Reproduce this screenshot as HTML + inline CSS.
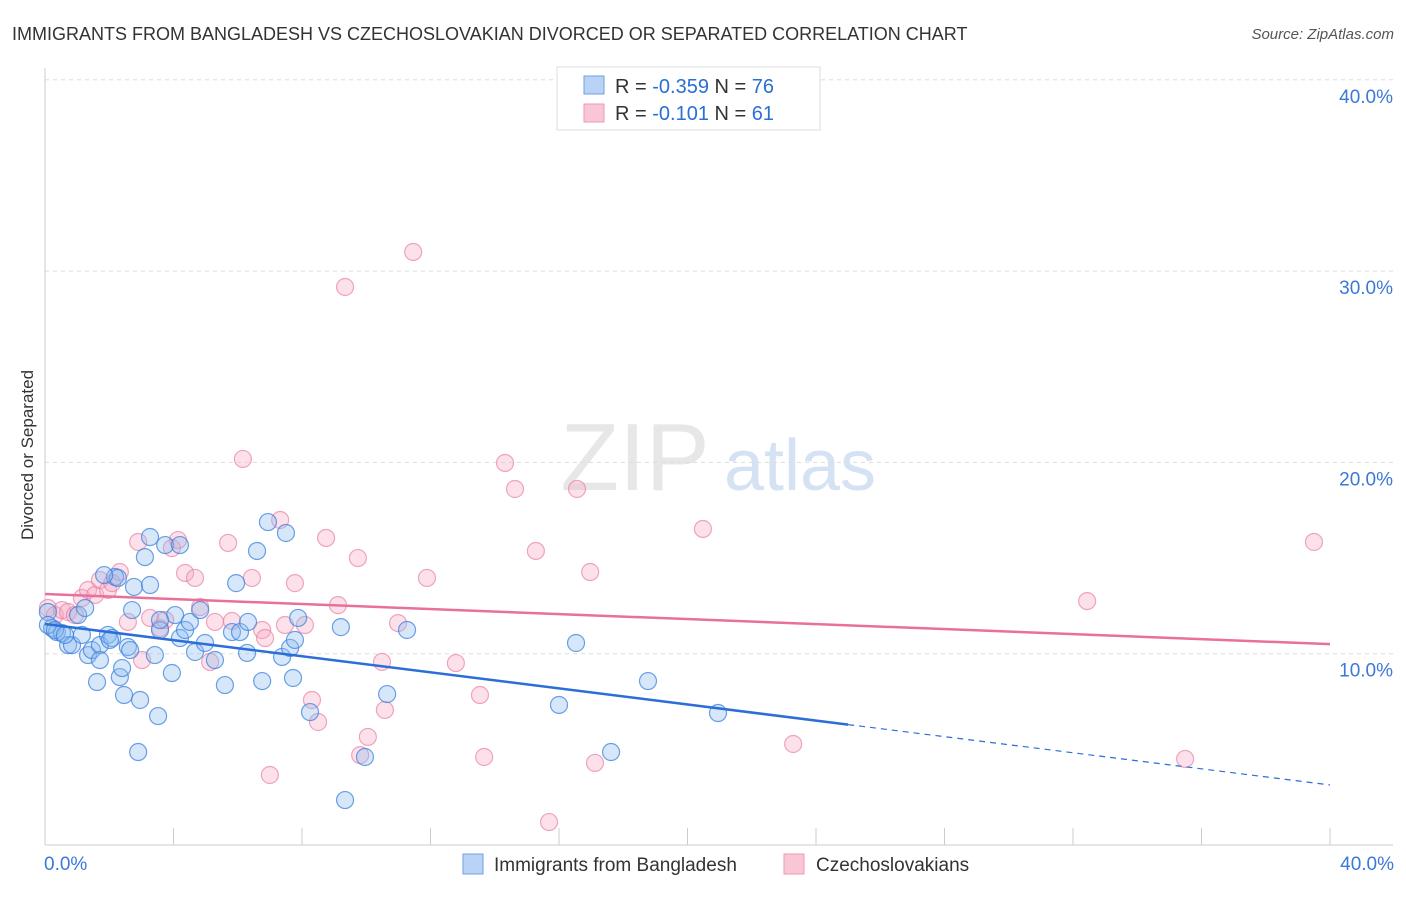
<!DOCTYPE html>
<html><head><meta charset="utf-8"><style>
body{margin:0;background:#fff;font-family:"Liberation Sans",sans-serif;}
svg text{font-family:"Liberation Sans",sans-serif;}
</style></head><body>
<svg id="c" width="1406" height="892" xmlns="http://www.w3.org/2000/svg">
<text x="12" y="40" font-size="18" fill="#333">IMMIGRANTS FROM BANGLADESH VS CZECHOSLOVAKIAN DIVORCED OR SEPARATED CORRELATION CHART</text>
<text x="1394" y="39" font-size="15" fill="#555" text-anchor="end" font-style="italic">Source: ZipAtlas.com</text>
<text transform="translate(33,455) rotate(-90)" font-size="17" fill="#333" text-anchor="middle">Divorced or Separated</text>
<g><text x="635" y="490" font-size="96" fill="#d8d8d8" text-anchor="middle" font-family="Liberation Serif,serif" opacity="0.6">ZIP</text><text x="800" y="490" font-size="72" fill="#b8d0ee" text-anchor="middle" opacity="0.6">atlas</text></g>
<g id="grid"></g><g id="marks"></g>
<g>
<rect x="557" y="67" width="263" height="63" fill="#fff" stroke="#ddd"/>
<rect x="584" y="76" width="20" height="18" fill="#b8d3f5" stroke="#6fa0e0"/>
<rect x="584" y="104" width="20" height="18" fill="#f9c6d6" stroke="#ee9ab4"/>
<text x="615" y="93" font-size="20" fill="#333">R = <tspan fill="#2a6ed6">-0.359</tspan>   N = <tspan fill="#2a6ed6">76</tspan></text>
<text x="615" y="120" font-size="20" fill="#333">R =  <tspan fill="#2a6ed6">-0.101</tspan>   N =  <tspan fill="#2a6ed6">61</tspan></text>
</g>
<g>
<rect x="463" y="854" width="20" height="20" fill="#b8d3f5" stroke="#6fa0e0"/>
<text x="494" y="871" font-size="19" fill="#333">Immigrants from Bangladesh</text>
<rect x="784" y="854" width="20" height="20" fill="#f9c6d6" stroke="#ee9ab4"/>
<text x="816" y="871" font-size="19" fill="#333">Czechoslovakians</text>
</g>
</svg>
<script>
const blueX=[.09,.22,.37,.53,.72,.84,1.03,1.15,1.34,1.46,1.62,1.71,1.96,2.09,2.18,2.27,1.84,2.33,2.40,2.46,2.58,2.71,2.77,2.96,2.90,3.11,3.27,3.27,3.42,3.52,3.58,3.74,3.95,4.05,4.20,4.36,4.51,4.67,4.98,5.29,5.60,5.82,5.95,6.07,6.29,6.32,6.60,6.76,6.94,7.38,7.50,7.63,7.72,7.78,7.88,8.25,9.21,9.34,9.96,10.65,11.27,16.00,16.53,17.62,18.77,20.95,.09,.31,.62,1.25,2.02,3.58,1.71,4.20,4.83,2.65];
const blueY=[12.18,11.34,11.13,11.08,10.45,10.45,12.02,10.98,9.93,10.19,8.52,10.45,10.98,10.82,14.01,13.96,14.11,8.78,9.25,7.84,10.35,12.28,13.49,7.58,4.86,15.05,16.10,13.59,9.93,6.74,11.24,15.68,8.99,12.02,10.82,11.24,11.66,10.09,10.56,9.67,8.36,11.13,13.69,11.13,10.04,11.66,15.37,8.57,16.88,9.83,16.31,10.30,8.73,10.72,11.87,6.95,11.39,2.35,4.60,7.89,11.24,7.32,10.56,4.86,8.57,6.90,11.50,11.24,10.98,12.39,10.72,11.76,9.67,15.68,12.28,10.19];
const pinkX=[.09,.31,.53,.72,.93,1.15,1.34,1.56,1.71,1.96,2.09,2.33,2.58,2.90,3.02,3.27,3.58,3.74,3.95,4.14,4.36,4.67,4.83,5.14,5.29,5.70,5.82,6.16,6.44,6.76,6.85,7.00,7.32,7.47,7.78,8.09,8.31,8.50,8.75,9.34,9.12,9.74,9.81,10.05,10.49,10.58,10.99,11.46,11.89,12.79,13.54,13.67,14.32,14.63,15.28,15.69,16.56,16.97,17.12,20.48,23.29,32.44,35.49,39.50];
const pinkY=[12.39,12.02,12.28,12.18,12.02,12.91,13.33,13.07,13.85,13.33,13.69,14.27,11.66,15.84,9.67,11.87,11.34,11.76,15.52,15.94,14.22,13.96,12.44,9.57,11.66,15.79,11.71,20.18,13.96,11.24,10.82,3.66,16.99,11.50,13.69,11.50,7.58,6.43,16.05,29.17,12.54,15.00,4.70,5.65,9.57,7.06,11.60,31.00,13.96,9.51,7.84,4.60,19.97,18.61,15.37,1.20,18.61,14.27,4.29,16.52,5.28,12.75,4.50,15.84];
const yTicks=[10,20,30,40];
const yTickLabels=["10.0%","20.0%","30.0%","40.0%"];
const xTicks=[0,4,8,12,16,20,24,28,32,36,40];
const blueTrend=[11.55,3.14], blueSolidEnd=25.0;
const pinkTrend=[13.12,10.5];
const NS="http://www.w3.org/2000/svg";
const sx=v=>45+v*(1285/40), sy=v=>845-v*19.13;
function mk(p,t,a){const e=document.createElementNS(NS,t);for(const k in a)e.setAttribute(k,a[k]);p.appendChild(e);return e;}
const g=document.getElementById('grid'), m=document.getElementById('marks');
yTicks.forEach((t,i)=>{
 const l=mk(g,'line',{x1:45,x2:1393,y1:sy(t),y2:sy(t),stroke:'#ddd','stroke-dasharray':'4,4'});
  
 const tx=mk(g,'text',{x:1393,y:sy(t)+23,'font-size':19,fill:'#3b78d8','text-anchor':'end'});
 tx.textContent=yTickLabels[i];
  
});
const ax=mk(g,'line',{x1:45,x2:45,y1:68,y2:845,stroke:'#ccc'});
 
const bx=mk(g,'line',{x1:45,x2:1393,y1:845,y2:845,stroke:'#ccc'});
 
xTicks.forEach(t=>{const l=mk(g,'line',{x1:sx(t),x2:sx(t),y1:828,y2:845,stroke:'#ccc'});
  });
[[0,'start','0.0%'],[40,'end','40.0%']].forEach(([v,a,s])=>{const t=mk(g,'text',{x:v==0?44:1394,y:870,'font-size':19,fill:'#3b78d8','text-anchor':a});t.textContent=s;
  });
pinkX.forEach((x,i)=>{const c=mk(m,'circle',{cx:sx(x),cy:sy(pinkY[i]),r:8.5,fill:'rgba(246,170,196,0.35)',stroke:'rgba(232,130,165,0.7)','stroke-width':1.2});
  });
blueX.forEach((x,i)=>{const c=mk(m,'circle',{cx:sx(x),cy:sy(blueY[i]),r:8.5,fill:'rgba(140,185,240,0.35)',stroke:'rgba(60,130,220,0.75)','stroke-width':1.2});
  });
const by=x=>blueTrend[0]+(blueTrend[1]-blueTrend[0])*x/40;
const l1=mk(m,'line',{x1:sx(0),y1:sy(by(0)),x2:sx(blueSolidEnd),y2:sy(by(blueSolidEnd)),stroke:'#2a6ed6','stroke-width':2.5});
 
const l2=mk(m,'line',{x1:sx(blueSolidEnd),y1:sy(by(blueSolidEnd)),x2:sx(40),y2:sy(by(40)),stroke:'#2a6ed6','stroke-width':1.2,'stroke-dasharray':'6,5'});
 
const l3=mk(m,'line',{x1:sx(0),y1:sy(pinkTrend[0]),x2:sx(40),y2:sy(pinkTrend[1]),stroke:'#e8709a','stroke-width':2.5});
 
</script>
</body></html>
